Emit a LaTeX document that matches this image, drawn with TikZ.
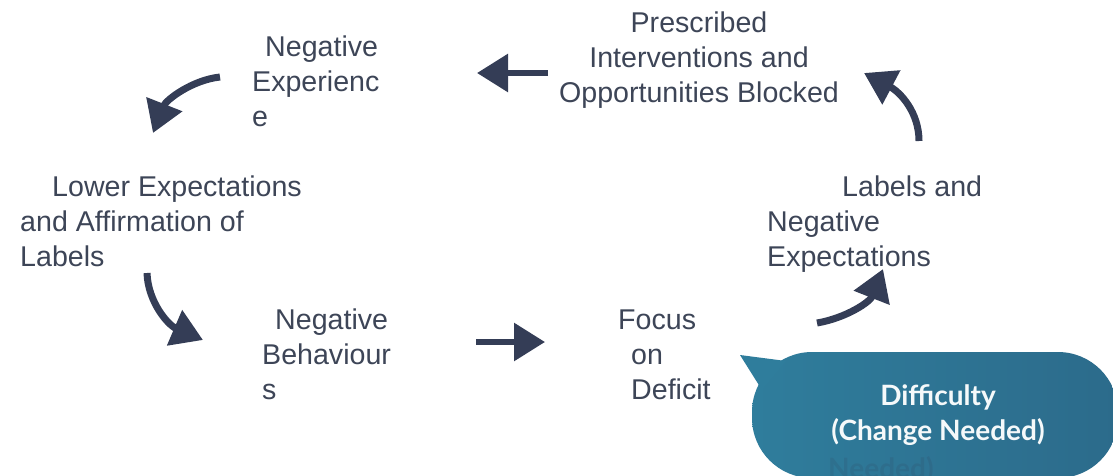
\documentclass[tikz,border=0pt]{standalone}
\usepackage{fontspec}
\setmainfont{Liberation Sans}
\newfontfamily\bubblefont{Lato}
\usetikzlibrary{arrows.meta}

\definecolor{stagegray}{HTML}{3D4557}
\definecolor{arrowblue}{HTML}{343D56}
\definecolor{bubbleleft}{HTML}{2F7D9C}
\definecolor{bubbleright}{HTML}{2C6B8B}

\tikzset{
  stagetext/.style={anchor=base west, inner sep=0pt, align=left, text=stagegray,
    font=\fontsize{28.6}{35}\selectfont},
  cyclearrow/.style={draw=arrowblue, line width=7pt,
    -{Triangle[length=31pt,width=37pt]}},
}

\begin{document}
\begin{tikzpicture}[x=1pt, y=-1pt, line join=round]
	\useasboundingbox (0,0) rectangle (1113,475);
	\clip (0,0) rectangle (1113,475);

	% the speech bubble
	\shade[left color=bubbleleft, right color=bubbleright, rounded corners=60pt]
		(752,352) rectangle (1118,478);
	\fill[bubbleleft] (740,355) -- (786,361) -- (762,390) -- cycle;
	\node[anchor=base west, inner sep=0pt, text=arrowblue, opacity=0.15,
		font=\bubblefont\bfseries\fontsize{28}{35}\selectfont] (ghost) at (828,478) {Needed)};
	\node[anchor=base, inner sep=0pt, align=center, text=white!95!bubbleleft,
		font=\bubblefont\bfseries\fontsize{28}{35}\selectfont] (difficulty) at (938,440)
		{Difficulty\\(Change Needed)};

	% stages of the cycle (base = last line)
	\node[stagetext, anchor=base, align=center] (blocked) at (699,102)
		{Prescribed\\Interventions and\\Opportunities Blocked};
	\node[stagetext] (experience) at (252,126) {\hspace*{13pt}Negative\\Experienc\\e};
	\node[stagetext] (lowerexp) at (20,266)
		{\hspace*{32pt}Lower Expectations\\and Affirmation of\\Labels};
	\node[stagetext] (behaviours) at (262,399) {\hspace*{13pt}Negative\\Behaviour\\s};
	\node[stagetext] (deficit) at (618,399) {Focus\\\hspace*{13pt}on\\\hspace*{13pt}Deficit};
	\node[stagetext] (labels) at (767,266)
		{\hspace*{75pt}Labels and\\Negative\\Expectations};

	% arrow ends
	\coordinate (a1) at (220,77);   \coordinate (b1) at (153,133);
	\coordinate (a2) at (548,73);   \coordinate (b2) at (477,73);
	\coordinate (a3) at (919,141);  \coordinate (b3) at (864,73);
	\coordinate (a4) at (147,273);  \coordinate (b4) at (203,340);
	\coordinate (a5) at (476,342);  \coordinate (b5) at (545,342);
	\coordinate (a6) at (817,323);  \coordinate (b6) at (883,269);

	\draw[cyclearrow] (a1) .. controls (192,80) and (166,100) .. (b1);
	\draw[cyclearrow, line width=6pt] (a2) -- (b2);
	\draw[cyclearrow] (a3) .. controls (919,112) and (900,92) .. (b3);
	\draw[cyclearrow] (a4) .. controls (148,302) and (168,325) .. (b4);
	\draw[cyclearrow, line width=6pt] (a5) -- (b5);
	\draw[cyclearrow] (a6) .. controls (846,318) and (870,302) .. (b6);
\end{tikzpicture}
\end{document}
